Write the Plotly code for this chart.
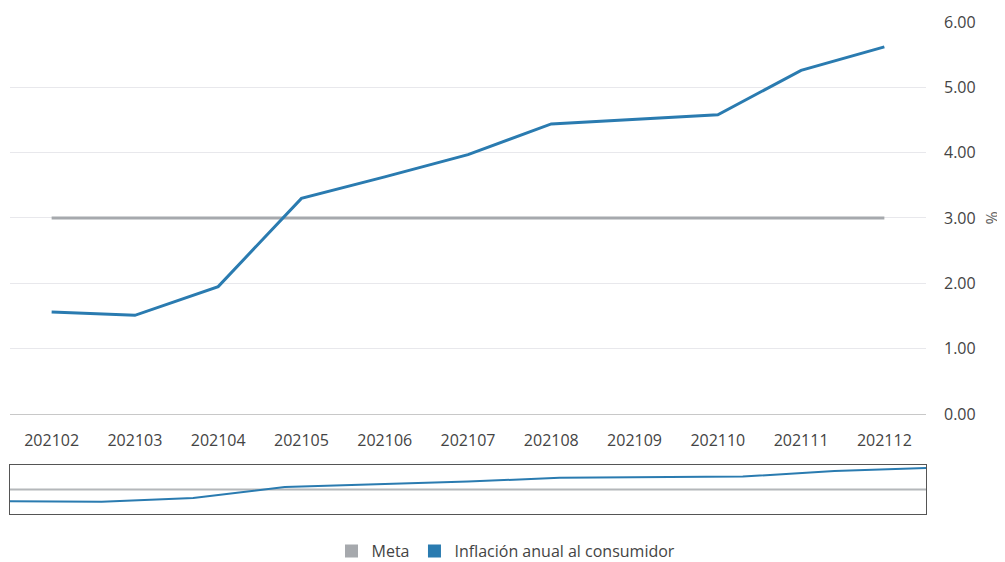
import plotly.graph_objects as go

periods = ["202102", "202103", "202104", "202105", "202106", "202107",
           "202108", "202109", "202110", "202111", "202112"]
inflacion = [1.56, 1.51, 1.95, 3.30, 3.63, 3.97, 4.44, 4.51, 4.58, 5.26, 5.62]
meta = [3.0, 3.0, 3.0, 3.0, 3.0, 3.0, 3.0, 3.0, 3.0, 3.0, 3.0]
series_names = ["Meta", "Inflación anual al consumidor"]
y_ticks = [0, 1, 2, 3, 4, 5, 6]

BLUE = "#2a7bb0"
GRAY = "#a6a9ad"
FONT = "Open Sans"

# page body has an 8px margin; figure sized to fit the 1005x562 window
W, H = 997, 554

fig = go.Figure()

# main chart
fig.add_trace(go.Scatter(x=periods, y=meta, mode="lines", name=series_names[0],
                         line=dict(color=GRAY, width=3), showlegend=False,
                         xaxis="x", yaxis="y"))
fig.add_trace(go.Scatter(x=periods, y=inflacion, mode="lines", name=series_names[1],
                         line=dict(color=BLUE, width=3), showlegend=False,
                         xaxis="x", yaxis="y"))
# navigator
fig.add_trace(go.Scatter(x=periods, y=meta, mode="lines", name=series_names[0],
                         line=dict(color="#b4b7ba", width=2), showlegend=False,
                         hoverinfo="skip", xaxis="x2", yaxis="y2"))
fig.add_trace(go.Scatter(x=periods, y=inflacion, mode="lines", name=series_names[1],
                         line=dict(color=BLUE, width=2), showlegend=False,
                         hoverinfo="skip", xaxis="x2", yaxis="y2"))
# legend entries (square symbols)
for name, col in zip(series_names, [GRAY, BLUE]):
    fig.add_trace(go.Scatter(x=[None], y=[None], mode="markers", name=name,
                             marker=dict(symbol="square", size=13, color=col),
                             showlegend=True, xaxis="x", yaxis="y"))

fig.update_layout(
    width=W, height=H,
    margin=dict(l=2, r=79, t=14, b=48, autoexpand=False),
    paper_bgcolor="white", plot_bgcolor="white",
    font=dict(family=FONT, size=16, color="#444"),
    xaxis=dict(type="category", range=[-0.5, 10.5], domain=[0, 1],
               anchor="y", showgrid=False, zeroline=False, automargin=False,
               showline=True, linecolor="#c8c8c8", linewidth=1,
               ticks="", ticklabelstandoff=12,
               tickfont=dict(size=16, color="#444")),
    yaxis=dict(domain=[0.2033, 1], range=[0, 6], side="right", anchor="x",
               tickvals=y_ticks, tickformat=".2f", automargin=False,
               showgrid=True, gridcolor="#e8e8ec", gridwidth=1, zeroline=False,
               showline=False, ticks="", ticklabelstandoff=17,
               tickfont=dict(size=16, color="#444"),
               title=dict(text="%", font=dict(size=16, color="#666"), standoff=12)),
    xaxis2=dict(type="category", range=[0, 10], domain=[0, 1], anchor="y2",
                showticklabels=False, showgrid=False, zeroline=False,
                showline=True, mirror=True, linecolor="#555", linewidth=1,
                ticks="", automargin=False),
    yaxis2=dict(domain=[0, 0.0996], range=[0, 6], anchor="x2",
                showticklabels=False, showgrid=False, zeroline=False,
                showline=True, mirror=True, linecolor="#555", linewidth=1,
                ticks="", automargin=False),
    showlegend=True,
    legend=dict(orientation="h", xref="container", yref="container",
                x=(506 - 8) / W, xanchor="center", y=11 / H, yanchor="middle",
                font=dict(size=16, color="#444"), itemwidth=30),
    hovermode="x unified",
)

fig.write_html("out.html")
